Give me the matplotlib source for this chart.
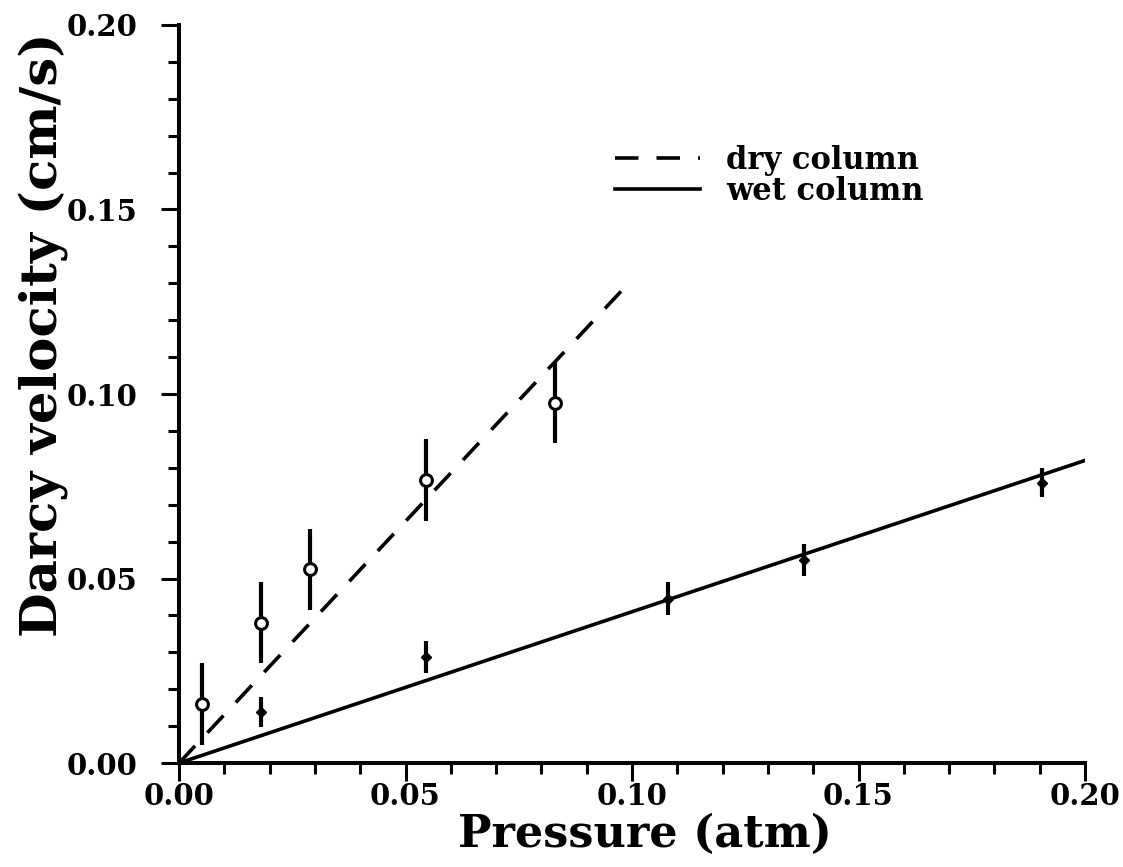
import matplotlib
matplotlib.use("Agg")
import matplotlib.pyplot as plt
import numpy as np
from matplotlib.ticker import MultipleLocator, FormatStrFormatter

plt.rcParams['font.family'] = ['DejaVu Serif']
plt.rcParams['font.weight'] = 'bold'

# measured flow through the dry column (open circles)
dry_pressure = [0.005, 0.018, 0.029, 0.0545, 0.083]
dry_velocity = [0.016, 0.038, 0.0525, 0.0767, 0.0976]
dry_error = [0.011, 0.011, 0.011, 0.011, 0.011]

# measured flow through the wet column (small solid markers)
wet_pressure = [0.018, 0.0545, 0.108, 0.138, 0.1905]
wet_velocity = [0.0138, 0.0287, 0.0445, 0.055, 0.076]
wet_error = [0.004, 0.0043, 0.0045, 0.0043, 0.004]

# linear fits through the origin
dry_slope = 1.31
dry_fit_x = [0.0, 0.099]
wet_slope = 0.41
wet_fit_x = [0.0, 0.2]

fig = plt.figure(figsize=(11.23, 8.67), dpi=100)
ax = fig.add_axes([0.1594, 0.1199, 0.8068, 0.8513])

ax.plot(dry_fit_x, [dry_slope * x for x in dry_fit_x], color='black', lw=2.6,
        dashes=(6.5, 5), label='dry column')
ax.plot(wet_fit_x, [wet_slope * x for x in wet_fit_x], color='black', lw=2.6,
        label='wet column')

ax.errorbar(dry_pressure, dry_velocity, yerr=dry_error, fmt='o', ms=8.5,
            mfc='white', mec='black', mew=2.2, ecolor='black', elinewidth=3,
            capsize=0, zorder=3)
ax.errorbar(wet_pressure, wet_velocity, yerr=wet_error, fmt='D', ms=5,
            mfc='black', mec='black', ecolor='black', elinewidth=3,
            capsize=0, zorder=3)

ax.set_xlim(0, 0.2)
ax.set_ylim(0, 0.2)
for side in ['top', 'right']:
    ax.spines[side].set_visible(False)
for side in ['left', 'bottom']:
    ax.spines[side].set_linewidth(2.9)

ax.xaxis.set_major_locator(MultipleLocator(0.05))
ax.xaxis.set_minor_locator(MultipleLocator(0.01))
ax.yaxis.set_major_locator(MultipleLocator(0.05))
ax.yaxis.set_minor_locator(MultipleLocator(0.01))
ax.xaxis.set_major_formatter(FormatStrFormatter('%.2f'))
ax.yaxis.set_major_formatter(FormatStrFormatter('%.2f'))

ax.tick_params(which='major', direction='out', length=13, width=2.2, labelsize=21)
ax.tick_params(which='minor', direction='out', length=8, width=2.2)
ax.tick_params(axis='y', which='major', pad=17)
ax.tick_params(axis='x', which='major', pad=1)

ax.set_xlabel('Pressure (atm)', fontsize=32, fontweight='bold')
ax.set_ylabel('Darcy velocity (cm/s)', fontsize=37, fontweight='bold')
ax.xaxis.set_label_coords(0.514, -0.068)
ax.yaxis.set_label_coords(-0.122, 0.58)

ax.legend(loc='upper left', bbox_to_anchor=(0.481, 0.838), frameon=False,
          fontsize=22, handlelength=2.8, handletextpad=0.85, labelspacing=0.02,
          borderpad=0, borderaxespad=0)

fig.savefig('out.png', dpi=100, facecolor='white')
